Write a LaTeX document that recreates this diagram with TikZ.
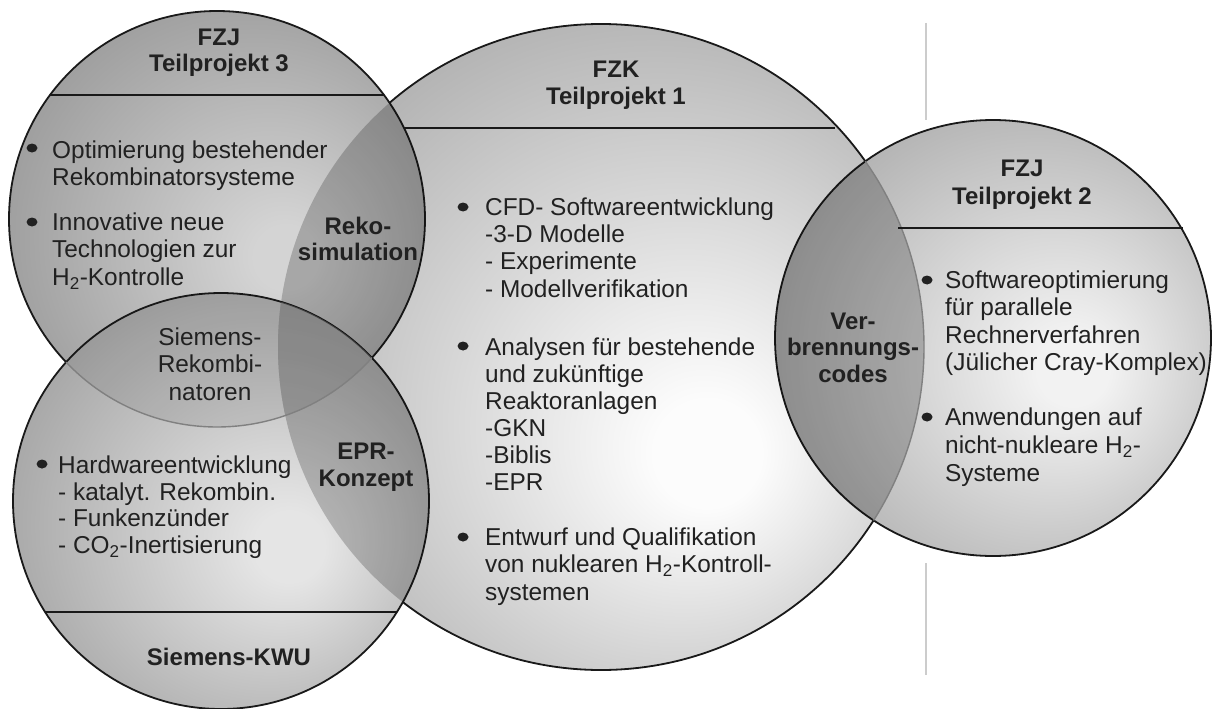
\documentclass[tikz,border=0pt]{standalone}
\usepackage{fontspec}
\setmainfont{Liberation Sans}
\pgfdeclareradialshading{shT}{\pgfpoint{9bp}{-5bp}}{color(0bp)=(black!17); color(4bp)=(black!17); color(36bp)=(black!43); color(50bp)=(black!43)}
\pgfdeclareradialshading{shW}{\pgfpoint{9bp}{-6bp}}{color(0bp)=(black!10); color(4bp)=(black!10); color(36bp)=(black!40); color(50bp)=(black!40)}
\pgfdeclareradialshading{shK}{\pgfpoint{9bp}{-9bp}}{color(0bp)=(black!1); color(4bp)=(black!1); color(38bp)=(black!38); color(50bp)=(black!38)}
\pgfdeclareradialshading{shP}{\pgfpoint{10bp}{-4bp}}{color(0bp)=(black!5); color(4bp)=(black!5); color(36bp)=(black!36); color(50bp)=(black!36)}
\begin{document}
\begin{tikzpicture}[x=1pt,y=-1pt,
  edge/.style={draw=black!90, line width=1.8pt},
  faint/.style={draw=black!50, line width=1.4pt},
  ov/.style={fill=black, fill opacity=0.21},
  hline/.style={draw=black!90, line width=1.4pt},
  body/.style={inner sep=0pt, text=black!87, font=\fontsize{24.4}{27.3}\selectfont, align=left, anchor=north west},
  lbl/.style={inner sep=0pt, text=black!87, font=\fontsize{24}{27}\selectfont\bfseries, align=center, anchor=north},
  soft/.style={inner sep=0pt, text=black!87, font=\fontsize{24.4}{27.5}\selectfont, align=center, anchor=north},
  dot/.style={fill=black!87}]
\useasboundingbox (0,0) rectangle (1215,709);
\fill[white] (0,0) rectangle (1215,709);
% separator
\coordinate (s1) at (926,23); \coordinate (s2) at (926,120);
\coordinate (s3) at (926,563); \coordinate (s4) at (926,675);
\draw[black!20, line width=2pt] (s1) -- (s2) (s3) -- (s4);
% circle centres
\coordinate (cK) at (601,347);
\coordinate (cT) at (217,219);
\coordinate (cP) at (993,338);
\coordinate (cW) at (221,501);
% fills and outlines
\shade[shading=shK] (cK) circle (323pt);
\draw[edge] (cK) circle (323pt);
\shade[shading=shT] (cT) circle (208pt);
\draw[edge] (cT) circle (208pt);
\shade[shading=shP] (cP) circle (218pt);
\draw[edge] (cP) circle (218pt);
\shade[shading=shW] (cW) circle (208pt);
\draw[edge] (cW) circle (208pt);
% overlaps
\begin{scope}\clip (cT) circle (208pt); \fill[ov] (cK) circle (323pt);\end{scope}
\begin{scope}\clip (cP) circle (218pt); \fill[ov] (cK) circle (323pt);\end{scope}
\begin{scope}\clip (cW) circle (208pt); \fill[ov] (cK) circle (323pt);\end{scope}
\begin{scope}\clip (cW) circle (208pt); \fill[ov, fill opacity=0.08] (cT) circle (208pt);\end{scope}
% soften the triple overlap
\begin{scope}\clip (cW) circle (208pt); \clip (cT) circle (208pt);
  \fill[white, fill opacity=0.22] (cK) circle (323pt);\end{scope}
% faint hidden outlines
\begin{scope}\clip (cW) circle (208pt); \draw[faint] (cT) circle (208pt);\end{scope}
\begin{scope}\clip (cP) circle (218pt); \draw[faint] (cK) circle (323pt);\end{scope}
% header rules
\coordinate (t3a) at (50,95);   \coordinate (t3b) at (384,95);
\coordinate (k1a) at (404,128); \coordinate (k1b) at (835,128);
\coordinate (p2a) at (898,228); \coordinate (p2b) at (1183,228);
\coordinate (swa) at (45,612);  \coordinate (swb) at (397,612);
\draw[hline] (t3a) -- (t3b);
\draw[hline] (k1a) -- (k1b);
\draw[hline] (p2a) -- (p2b);
\draw[hline] (swa) -- (swb);
% bullets
\foreach \bx/\by in {32/148, 32/222, 42/464, 463/207, 463/346, 463/537, 927/280, 927/417}
  \fill[dot] (\bx,\by) ellipse (5.5pt and 4.5pt);
% FZJ Teilprojekt 3
\node[lbl, font=\fontsize{24}{26}\selectfont\bfseries] (h3) at (219,28.5) {FZJ\\Teilprojekt 3};
\node[body] (t3i) at (52,140.5) {Optimierung bestehender\\Rekombinatorsysteme};
\node[body, font=\fontsize{24.4}{27.5}\selectfont] (t3ii) at (52,212.5) {Innovative neue\\Technologien zur\\H\textsubscript{2}-Kontrolle};
\node[lbl, font=\fontsize{24}{26}\selectfont\bfseries] (reko) at (358,216.5) {Reko-\\simulation};
\node[soft] (srek) at (210,327.5) {Siemens-\\Rekombi-\\natoren};
% Siemens-KWU
\node[lbl] (epr) at (366,442.5) {EPR-\\Konzept};
\node[body, font=\fontsize{24.4}{26.7}\selectfont] (kwi) at (58,455.5) {Hardwareentwicklung\\- katalyt. Rekombin.\\- Funkenzünder\\- CO\textsubscript{2}-Inertisierung};
\node[lbl, anchor=base] (kwu) at (229,665) {Siemens-KWU};
% FZK Teilprojekt 1
\node[lbl] (h1) at (616,60.5) {FZK\\Teilprojekt 1};
\node[body, font=\fontsize{24.4}{27.3}\selectfont] (k1i) at (485,197.5) {CFD- Softwareentwicklung\\-3-D Modelle\\- Experimente\\- Modellverifikation};
\node[body, font=\fontsize{24.4}{27}\selectfont] (k1ii) at (485,337.5) {Analysen für bestehende\\und zukünftige\\Reaktoranlagen\\-GKN\\-Biblis\\-EPR};
\node[body, font=\fontsize{24.4}{27.5}\selectfont] (k1iii) at (485,527.5) {Entwurf und Qualifikation\\von nuklearen H\textsubscript{2}-Kontroll-\\systemen};
\node[lbl, font=\fontsize{24}{26.5}\selectfont\bfseries] (verb) at (853,312.5) {Ver-\\brennungs-\\codes};
% FZJ Teilprojekt 2
\node[lbl, font=\fontsize{24}{28}\selectfont\bfseries] (h2) at (1022,159.5) {FZJ\\Teilprojekt 2};
\node[body, font=\fontsize{24.4}{27.5}\selectfont] (p2i) at (945,270.5) {Softwareoptimierung\\für parallele\\Rechnerverfahren\\(Jülicher Cray-Komplex)};
\node[body, font=\fontsize{24.4}{28}\selectfont] (p2ii) at (945,407.5) {Anwendungen auf\\nicht-nukleare H\textsubscript{2}-\\Systeme};
\end{tikzpicture}
\end{document}
